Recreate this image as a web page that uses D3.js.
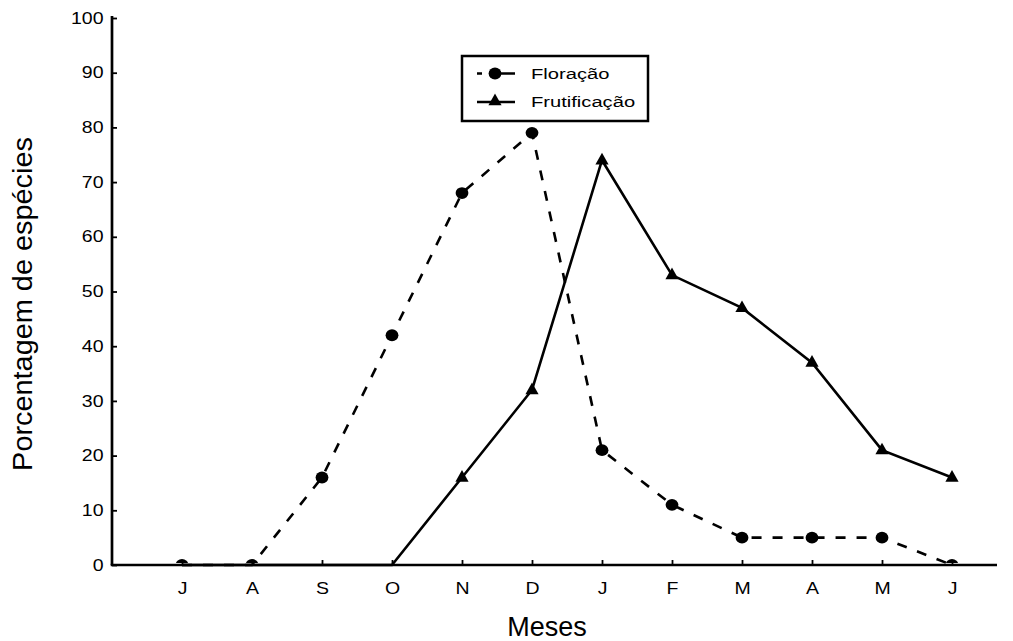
<!DOCTYPE html>
<html><head><meta charset="utf-8">
<script src="https://cdn.jsdelivr.net/npm/d3@7"></script>
<style>body{margin:0;background:#fff;} text{font-family:"Liberation Sans",Arial,sans-serif;fill:#000;}</style>
</head><body>
<svg id="c" width="1013" height="641"></svg>
<script>
const months = ["J","A","S","O","N","D","J","F","M","A","M","J"];
const floracao = [0,0,16,42,68,79,21,11,5,5,5,0];
const frutificacao = [0,0,0,0,16,32,74,53,47,37,21,16];
const yTicks = [0,10,20,30,40,50,60,70,80,90,100];
const seriesNames = ["Floração","Frutificação"];

(function(){
const svg = d3.select("#c");
const mLeft = 112, mRight = 997, mTop = 18, mBottom = 565;
const x = d3.scaleLinear().domain([-1, 12]).range([mLeft, mLeft + 70*13]);
const y = d3.scaleLinear().domain([0,100]).range([mBottom, mTop]);
const FONT = "Liberation Sans, Arial, sans-serif";

function stretch(sel, sx){
  sel.each(function(){
    const t = d3.select(this);
    const xv = +(t.attr("x") || 0);
    t.attr("x", xv/sx).attr("transform", `scale(${sx},1)`);
  });
}

svg.append("clipPath").attr("id","plotclip").append("rect")
  .attr("x", mLeft).attr("y", 0).attr("width", mRight - mLeft + 20).attr("height", mBottom - 2);

const line = d3.line().x((d,i)=>x(i)).y(d=>y(d));
svg.append("path").datum(floracao).attr("d", line).attr("fill","none").attr("stroke","#000").attr("stroke-width",2.6).attr("stroke-dasharray","10,11");
svg.append("path").datum(frutificacao).attr("d", line).attr("fill","none").attr("stroke","#000").attr("stroke-width",2.6);

const triPath = "M0,-7.5 L6.6,4.2 L-6.6,4.2 Z";
const mk = svg.append("g").attr("clip-path","url(#plotclip)");
mk.selectAll(".fl").data(floracao).enter().append("ellipse")
  .attr("cx",(d,i)=>x(i)).attr("cy",d=>y(d)).attr("rx",6.4).attr("ry",5.9).attr("fill","#000");
mk.selectAll(".fr").data(frutificacao).enter().append("path").attr("d", triPath)
  .attr("transform",(d,i)=>`translate(${x(i)},${y(d) + (d===0 ? 5 : 0)})`).attr("fill","#000");

const xAxis = d3.axisBottom(x).tickValues(d3.range(12)).tickFormat(i => months[i]).tickSizeInner(-5).tickSizeOuter(0).tickPadding(17.5);
const gx = svg.append("g").attr("transform", `translate(0,${mBottom})`).call(xAxis);
gx.select(".domain").remove();
gx.append("line").attr("x1", mLeft - 1.3).attr("x2", mRight).attr("stroke","#000").attr("stroke-width",2.7);
gx.selectAll(".tick line").attr("stroke","#000").attr("stroke-width",1.8);
gx.selectAll(".tick text").attr("font-size",16).attr("font-family",FONT).call(stretch, 1.22);

const yAxis = d3.axisLeft(y).tickValues(yTicks).tickSizeInner(-5).tickSizeOuter(0).tickPadding(8.5);
const gy = svg.append("g").attr("transform", `translate(${mLeft},0)`).call(yAxis);
gy.select(".domain").remove();
gy.append("line").attr("y1", mTop - 2).attr("y2", mBottom).attr("stroke","#000").attr("stroke-width",2.7);
gy.selectAll(".tick line").attr("stroke-width",1.8);
gy.selectAll(".tick text").attr("font-size",16).attr("font-family",FONT).call(stretch, 1.22);

svg.append("text").attr("x", 547).attr("y", 636).attr("text-anchor","middle").attr("font-size",27).text("Meses");
svg.append("text").attr("transform","translate(32,304) rotate(-90) scale(1.05,1)").attr("text-anchor","middle").attr("font-size",27.5).text("Porcentagem de espécies");

const lg = svg.append("g");
lg.append("rect").attr("x",462).attr("y",56).attr("width",186).attr("height",65).attr("fill","#fff").attr("stroke","#000").attr("stroke-width",2.5);
lg.append("line").attr("x1",477).attr("x2",515).attr("y1",73.5).attr("y2",73.5).attr("stroke","#000").attr("stroke-width",2.6).attr("stroke-dasharray","5,7,30");
lg.append("ellipse").attr("cx",495).attr("cy",73.5).attr("rx",6.4).attr("ry",5.9);
lg.append("text").attr("x",531).attr("y",79.5).attr("font-size",15.5).text(seriesNames[0]).call(stretch, 1.3);
lg.append("line").attr("x1",477).attr("x2",515).attr("y1",102).attr("y2",102).attr("stroke","#000").attr("stroke-width",2.6);
lg.append("path").attr("d",triPath).attr("transform","translate(495,101)");
lg.append("text").attr("x",531).attr("y",107.5).attr("font-size",15.5).text(seriesNames[1]).call(stretch, 1.3);
})();
</script>
</body></html>
